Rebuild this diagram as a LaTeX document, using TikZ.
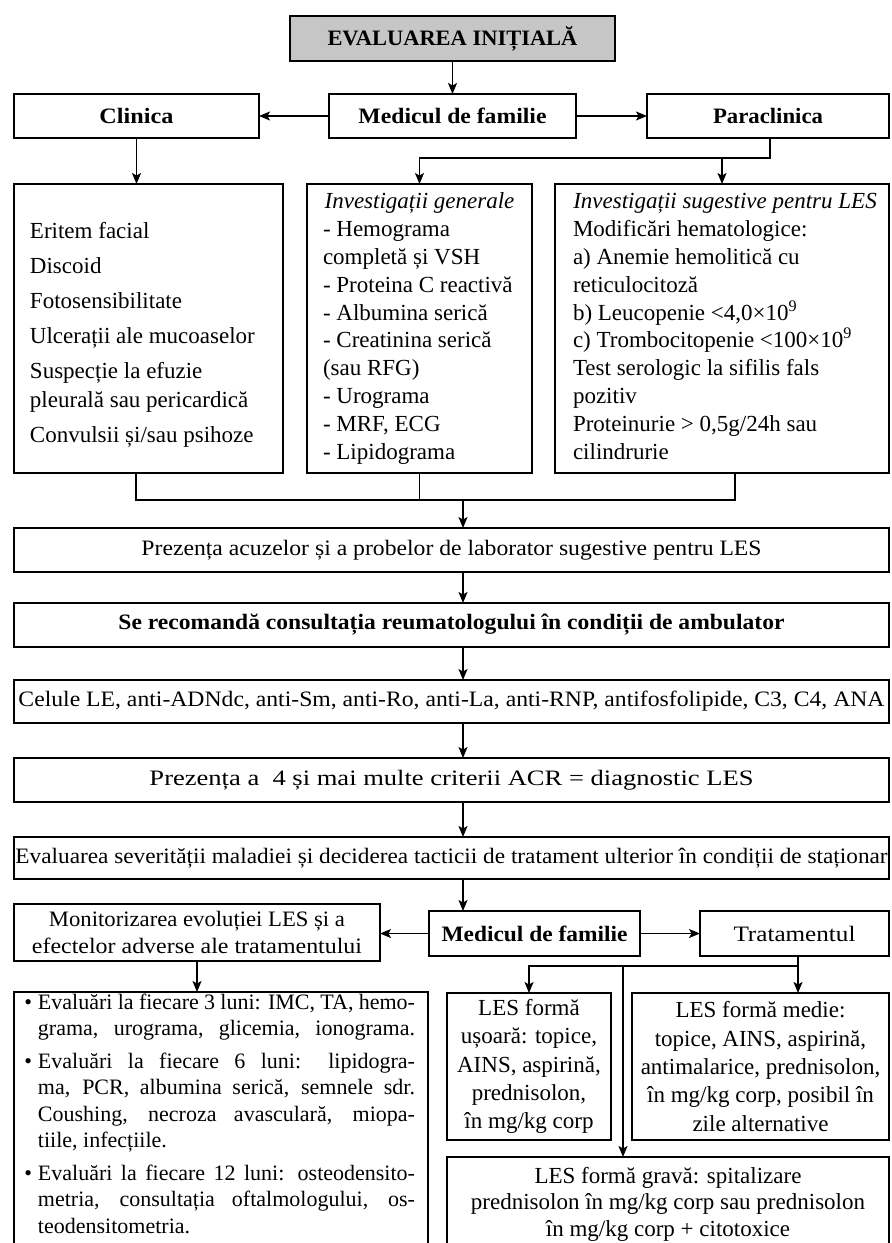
\documentclass[tikz,border=0pt]{standalone}
\usepackage{fontspec}
\usepackage{graphicx}
\setmainfont{Liberation Serif}
\usetikzlibrary{arrows.meta}
\newcommand{\fw}[2]{\resizebox{#1}{\height}{#2}}
\newcommand{\tx}[3]{\parbox[c][#2][t]{#1}{#3}}
\newcommand{\bul}{\strut\llap{\textbullet\hspace{6pt}}}
\begin{document}
\begin{tikzpicture}[x=1pt,y=-1pt,
  box/.style={draw, line width=1.5pt, inner sep=0pt, outer sep=0pt, anchor=north west, align=center},
  hbox/.style={box, font=\fontsize{22}{26}\selectfont},
  con/.style={line width=1.4pt},
  arr/.style={con, -{Stealth[length=11pt,width=9pt,inset=2.5pt]}},
]
\useasboundingbox (0,0) rectangle (892,1243);
\clip (0,0) rectangle (892,1243);
\fill[white] (0,0) rectangle (892,1243);

% top
\node[hbox, fill=gray!45, minimum width=325pt, minimum height=45pt] (eval) at (290,16) {\fw{250pt}{\bfseries EVALUAREA INIȚIALĂ}};
\node[hbox, minimum width=245pt, minimum height=44pt] (clin) at (14,94) {\fw{74pt}{\bfseries Clinica}};
\node[hbox, minimum width=247pt, minimum height=44pt] (med1) at (329,94) {\fw{188pt}{\bfseries Medicul de familie}};
\node[hbox, minimum width=242pt, minimum height=44pt] (para) at (647,94) {\fw{110pt}{\bfseries Paraclinica}};

% row 3
\node[box] (clist) at (14,184) {\tx{269pt}{289pt}{\fontsize{23}{29}\selectfont\raggedright\leftskip=16pt\relax\vspace*{34pt}\strut Eritem facial\\[6pt]Discoid\\[6pt]Fotosensibilitate\\[6pt]Ulcerații ale mucoaselor\\[6pt]Suspecție la efuzie\\pleurală sau pericardică\\[6pt]Convulsii și/sau psihoze}};
\node[box] (igen) at (307,184) {\tx{225pt}{289pt}{\fontsize{23}{27.8}\selectfont\raggedright\leftskip=16pt\relax\vspace*{5.5pt}\strut\makebox[193pt]{\itshape Investigații generale}\\- Hemograma\\completă și VSH\\- Proteina C reactivă\\- Albumina serică\\- Creatinina serică\\(sau RFG)\\- Urograma\\- MRF, ECG\\- Lipidograma}};
\node[box] (isug) at (555,184) {\tx{334pt}{289pt}{\fontsize{23}{27.8}\selectfont\raggedright\leftskip=18pt\relax\vspace*{5.5pt}\strut\makebox[304pt]{\itshape Investigații sugestive pentru LES}\\Modificări hematologice:\\a) Anemie hemolitică cu\\reticulocitoză\\b) Leucopenie <4,0×10\textsuperscript{9}\\c) Trombocitopenie <100×10\textsuperscript{9}\\Test serologic la sifilis fals\\pozitiv\\Proteinurie > 0,5g/24h sau\\cilindrurie}};

% middle chain
\node[hbox, minimum width=875pt, minimum height=44pt] (prez) at (14,528) {\fw{620pt}{Prezența acuzelor și a probelor de laborator sugestive pentru LES}};
\node[hbox, minimum width=875pt, minimum height=44pt] (recom) at (14,603) {\fw{666pt}{\bfseries Se recomandă consultația reumatologului în condiții de ambulator}};
\node[hbox, minimum width=875pt, minimum height=43pt] (cel) at (14,680) {\fw{866pt}{Celule LE, anti-ADNdc, anti-Sm, anti-Ro, anti-La, anti-RNP, antifosfolipide, C3, C4, ANA}};
\node[hbox, minimum width=875pt, minimum height=44pt] (prez4) at (14,758) {\fw{604pt}{Prezența a\ \ 4 și mai multe criterii ACR = diagnostic LES}};
\node[hbox, minimum width=875pt, minimum height=42pt] (evalsev) at (14,837) {\fw{872pt}{Evaluarea severității maladiei și deciderea tacticii de tratament ulterior în condiții de staționar}};

% bottom row
\node[hbox, font=\fontsize{22}{27}\selectfont, minimum width=366pt, minimum height=57pt] (monit) at (14,904) {\fw{296pt}{Monitorizarea evoluției LES și a}\\\fw{330pt}{efectelor adverse ale tratamentului}};
\node[hbox, minimum width=211pt, minimum height=45pt] (med2) at (429,911) {\fw{186pt}{\bfseries Medicul de familie}};
\node[hbox, minimum width=189pt, minimum height=45pt] (trat) at (700,911) {\fw{122pt}{Tratamentul}};

\node[box] (mlist) at (14,992) {\tx{414pt}{300pt}{\fontsize{22}{26.5}\selectfont\raggedright\leftskip=24pt\relax\vspace*{-1.5pt}%
\bul\makebox[377pt][s]{Evaluări la fiecare 3 luni: IMC, TA, hemo-}\\
\makebox[377pt][s]{grama, urograma, glicemia, ionograma.}\\[6pt]
\bul\makebox[377pt][s]{Evaluări la fiecare 6 luni: lipidogra-}\\
\makebox[377pt][s]{ma, PCR, albumina serică, semnele sdr.}\\
\makebox[377pt][s]{Coushing, necroza avasculară, miopa-}\\
tiile, infecțiile.\\[6pt]
\bul\makebox[377pt][s]{Evaluări la fiecare 12 luni: osteodensito-}\\
\makebox[377pt][s]{metria, consultația oftalmologului, os-}\\
teodensitometria.}};
\node[box, font=\fontsize{23}{28.3}\selectfont, minimum width=164pt, minimum height=147pt] (usoara) at (447,993) {LES formă\\ușoară: topice,\\AINS, aspirină,\\prednisolon,\\în mg/kg corp};
\node[box, font=\fontsize{23}{28.3}\selectfont, minimum width=257pt, minimum height=147pt] (medie) at (632,993) {LES formă medie:\\topice, AINS, aspirină,\\antimalarice, prednisolon,\\în mg/kg corp, posibil în\\zile alternative};
\node[box] (grava) at (447,1157) {\tx{442pt}{130pt}{\fontsize{23}{26.5}\selectfont\centering\vspace*{7.5pt}\strut LES formă gravă: spitalizare\\prednisolon în mg/kg corp sau prednisolon\\în mg/kg corp + citotoxice}};

% connectors
\draw[arr] (eval) -- (med1);
\draw[arr] (med1) -- (clin);
\draw[arr] (med1) -- (para);
\draw[arr] (clin.south) -- (clin.south |- clist.north);
\coordinate (pj) at (770,158);
\draw[arr] (pj |- para.south) -- (pj) -| (igen.north);
\draw[arr] (isug.north |- pj) -- (isug.north);

\coordinate (jl) at (136,500);
\coordinate (jr) at (735,500);
\coordinate (jm) at (463,500);
\draw[con] (jl |- clist.south) -- (jl) -- (jr) -- (jr |- isug.south);
\draw[con] (igen.south) -- (igen.south |- jl);
\draw[arr] (jm) -- (jm |- prez.north);
\draw[arr] (jm |- prez.south) -- (jm |- recom.north);
\draw[arr] (jm |- recom.south) -- (jm |- cel.north);
\draw[arr] (jm |- cel.south) -- (jm |- prez4.north);
\draw[arr] (jm |- prez4.south) -- (jm |- evalsev.north);
\draw[arr] (jm |- evalsev.south) -- (jm |- med2.north);
\draw[arr] (med2.west) -- (med2.west -| monit.east);
\draw[arr] (med2) -- (trat);
\draw[arr] (monit.south) -- (monit.south |- mlist.north);
\coordinate (tj) at (798,966);
\coordinate (tg) at (623,966);
\draw[con] (tj |- trat.south) -- (tj);
\draw[arr] (tj) -| (usoara.north);
\draw[arr] (tj) -- (tj |- medie.north);
\draw[arr] (tg) -- (tg |- grava.north);
\end{tikzpicture}
\end{document}
